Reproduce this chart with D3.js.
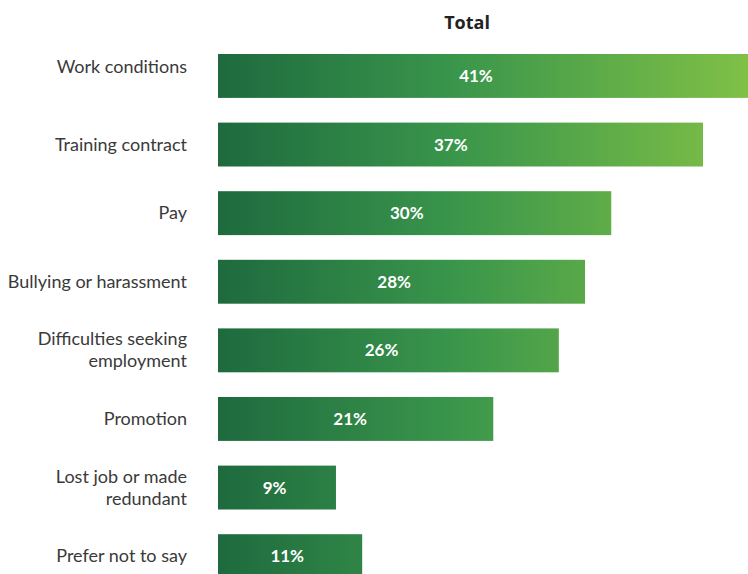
<!DOCTYPE html>
<html><head><meta charset="utf-8">
<script src="https://cdn.jsdelivr.net/npm/d3@7"></script>
<style>body{margin:0;background:#fff;} svg{display:block;}</style>
</head><body>
<svg id="c" width="748" height="574"></svg>
<script>
const categories = [
  ["Work conditions"],
  ["Training contract"],
  ["Pay"],
  ["Bullying or harassment"],
  ["Difficulties seeking", "employment"],
  ["Promotion"],
  ["Lost job or made", "redundant"],
  ["Prefer not to say"]
];
const values = [41, 37, 30, 28, 26, 21, 9, 11];
const seriesName = "Total";

const svg = d3.select("#c");
const x0 = 218;
const x = d3.scaleLinear().domain([0, 37]).range([x0, 703]);
const step = 68.6, pad = 0.36;
const y = d3.scaleBand().domain(d3.range(categories.length))
  .range([54, 54 + step * (categories.length - pad)]).paddingInner(pad).paddingOuter(0);

const defs = svg.append("defs");
const grad = defs.append("linearGradient").attr("id","g").attr("gradientUnits","userSpaceOnUse")
  .attr("x1", x0).attr("x2", 748).attr("y1",0).attr("y2",0);
grad.append("stop").attr("offset","0%").attr("stop-color","#1e6a3e");
grad.append("stop").attr("offset","45%").attr("stop-color","#3a964b");
grad.append("stop").attr("offset","100%").attr("stop-color","#80c046");

svg.append("text").attr("x", 467).attr("y", 29).attr("text-anchor","middle")
  .attr("font-family","'Open Sans', Lato, sans-serif").attr("font-weight","700")
  .attr("font-size", 18).attr("fill","#222").text(seriesName);

const g = svg.selectAll("g.row").data(values).enter().append("g");
g.append("rect").attr("x", x0).attr("y", (d,i)=>y(i)).attr("height", y.bandwidth())
  .attr("width", d => x(d) - x0).attr("fill","url(#g)");
g.append("text").attr("x", d => x0 + (x(d)-x0)*0.48).attr("y", (d,i)=>y(i)+y.bandwidth()/2+6)
  .attr("text-anchor","middle").attr("font-family","Lato, 'Open Sans', sans-serif")
  .attr("font-weight","700").attr("font-size",17).attr("fill","#fff").text(d => d + "%");

const lab = svg.selectAll("text.cat").data(categories).enter().append("text")
  .attr("class","cat").attr("text-anchor","end")
  .attr("font-family","Lato, 'Open Sans', sans-serif").attr("font-size",18).attr("fill","#3a3a3a");
lab.each(function(lines,i){
  const t = d3.select(this);
  const cy = y(i) + y.bandwidth()/2 + (i === 0 ? -9 : 0);
  const lh = 22;
  const start = cy - (lines.length-1)*lh/2 + 6;
  lines.forEach((l,k)=>{
    t.append("tspan").attr("x",187).attr("y", start + k*lh).text(l);
  });
});
</script>
</body></html>
